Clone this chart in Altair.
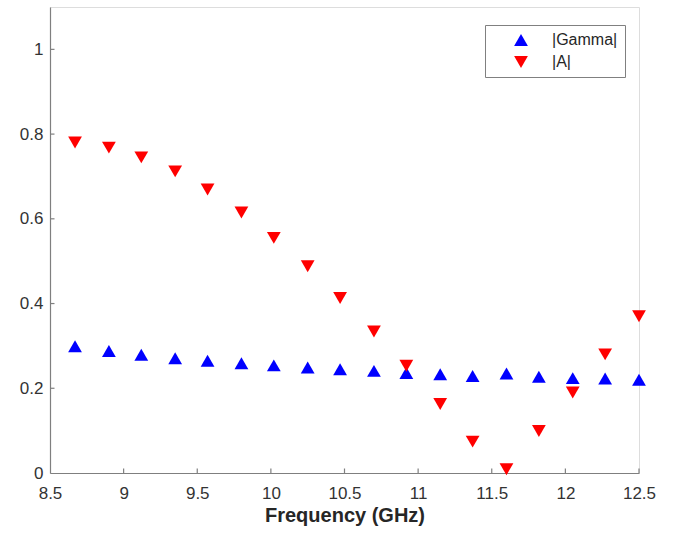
import altair as alt
import pandas as pd

freq = [8.67, 8.90, 9.12, 9.35, 9.57, 9.80, 10.02, 10.25, 10.47, 10.70,
        10.92, 11.15, 11.37, 11.60, 11.82, 12.05, 12.27, 12.50]
gamma = [0.299, 0.288, 0.279, 0.271, 0.265, 0.259, 0.254, 0.249, 0.245, 0.241,
         0.236, 0.233, 0.229, 0.235, 0.227, 0.224, 0.223, 0.220]
amp = [0.780, 0.768, 0.745, 0.712, 0.669, 0.615, 0.555, 0.488, 0.413, 0.334,
       0.253, 0.163, 0.074, 0.009, 0.099, 0.190, 0.280, 0.370]
series_names = ["|Gamma|", "|A|"]
x_ticks = [8.5, 9, 9.5, 10, 10.5, 11, 11.5, 12, 12.5]
y_ticks = [0, 0.2, 0.4, 0.6, 0.8, 1.0]

df = pd.DataFrame({
    "freq": freq + freq,
    "val": gamma + amp,
    "series": [series_names[0]] * len(freq) + [series_names[1]] * len(freq),
})

FONT = "Liberation Sans"
AX = "#7f7f7f"
TXT = "#333333"

xs = alt.Scale(domain=[8.5, 12.5], nice=False, zero=False)
ys = alt.Scale(domain=[0, 1.1], nice=False)

points = alt.Chart(df).mark_point(filled=True, size=190, opacity=1).encode(
    x=alt.X("freq:Q", scale=xs,
            axis=alt.Axis(values=x_ticks, format="~g", title="Frequency (GHz)",
                          grid=False, ticks=False, tickSize=0, labelPadding=12,
                          labelFlush=False, labelOverlap=False,
                          domainColor=AX, domainWidth=1.2,
                          labelFont=FONT, labelFontSize=17, labelColor=TXT,
                          titleFont=FONT, titleFontSize=20, titleFontWeight="bold",
                          titleColor="#262626", titlePadding=4)),
    y=alt.Y("val:Q", scale=ys,
            axis=alt.Axis(values=y_ticks, format="~g", title=None,
                          grid=False, ticks=False, tickSize=0, labelPadding=7,
                          labelFlush=False, labelOverlap=False,
                          domainColor=AX, domainWidth=1.2,
                          labelFont=FONT, labelFontSize=17, labelColor=TXT)),
    color=alt.Color("series:N",
                    scale=alt.Scale(domain=series_names, range=["#0000ff", "#ff0000"]),
                    legend=alt.Legend(title=None, orient="none", legendX=435, legendY=18,
                                      symbolSize=190, symbolOffset=21, labelOffset=23,
                                      labelFont=FONT, labelFontSize=16, labelColor="#262626",
                                      padding=7, rowPadding=6,
                                      strokeColor="#808080", fillColor="white")),
    shape=alt.Shape("series:N",
                    scale=alt.Scale(domain=series_names, range=["triangle-up", "triangle-down"]),
                    legend=None),
)

tick_df = pd.DataFrame({"xt": x_ticks[1:]})
xtick_rules = alt.Chart(tick_df).mark_rule(color=AX, strokeWidth=1.2).encode(
    x=alt.X("xt:Q", scale=xs), y=alt.value(466), y2=alt.value(461.5))
ytick_df = pd.DataFrame({"yt": y_ticks[1:]})
ytick_rules = alt.Chart(ytick_df).mark_rule(color=AX, strokeWidth=1.2).encode(
    y=alt.Y("yt:Q", scale=ys), x=alt.value(0), x2=alt.value(4.5))

chart = alt.layer(xtick_rules, ytick_rules, points).properties(
    width=589, height=466,
    autosize=alt.AutoSizeParams(type="none"),
    padding={"left": 50, "top": 7, "right": 35, "bottom": 64},
).configure_view(stroke=None).configure(background="white")

chart.save("out.html", embed_options={"renderer": "svg", "actions": False})
